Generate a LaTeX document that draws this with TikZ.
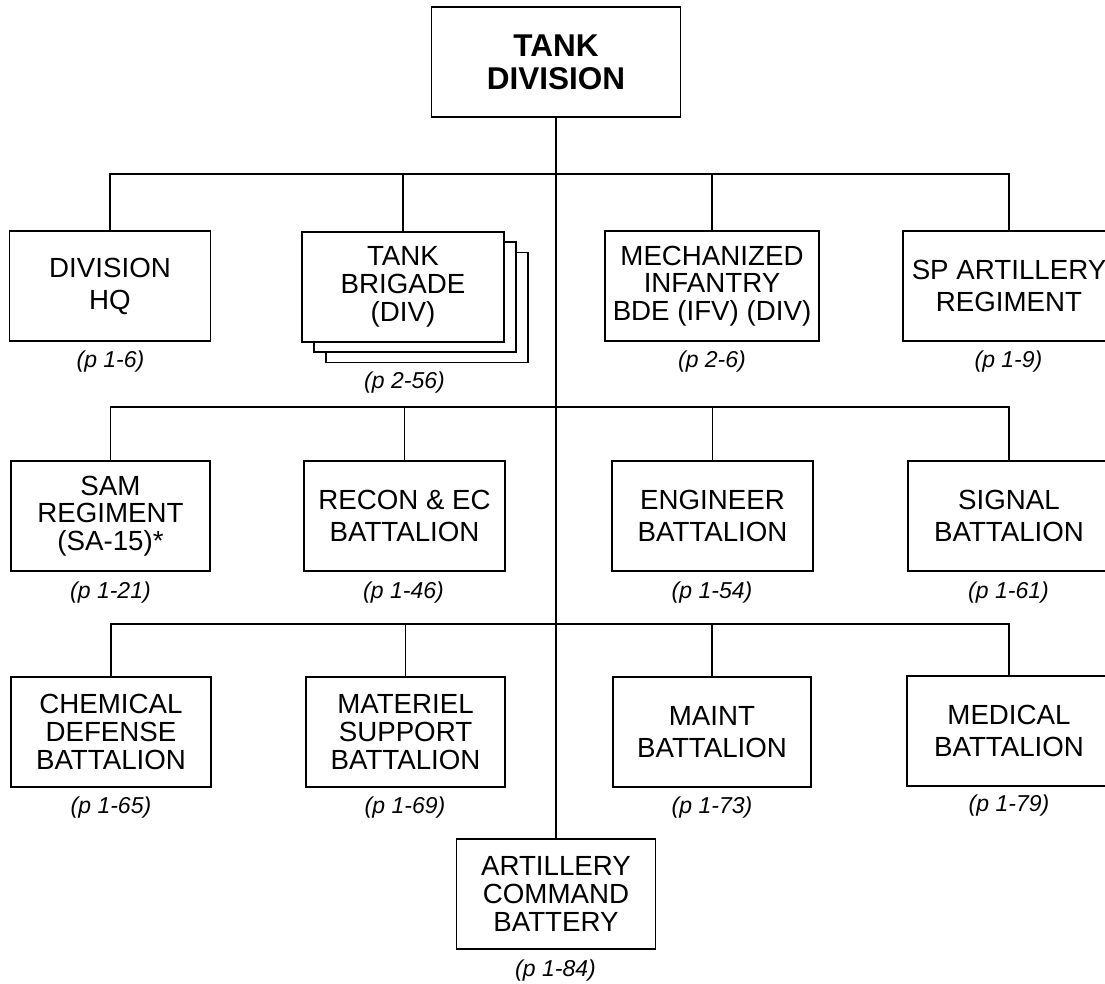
\documentclass[tikz,border=0pt]{standalone}
\usepackage{fontspec}
\setmainfont{Liberation Sans}
\begin{document}
\begin{tikzpicture}[x=1pt,y=-1pt,
  unit/.style={draw, line width=1.9pt, fill=white, align=center, inner sep=0pt,
    minimum height=110pt},
  twoline/.style={unit, font=\fontsize{27.7}{32}\selectfont},
  threeline/.style={unit, font=\fontsize{27.7}{27.8}\selectfont},
  topbox/.style={unit, font=\fontsize{31.5}{33}\selectfont\bfseries},
  pg/.style={font=\fontsize{23}{25}\selectfont\itshape, inner sep=0pt},
  link/.style={line width=1.9pt}
]
\useasboundingbox (0,0) rectangle (1105,984);
\clip (0,0) rectangle (1105,984);

% top
\node[topbox, minimum width=249pt] (top) at (556,62) {TANK\\DIVISION};

% row 1
\node[twoline, minimum width=201pt] (hq) at (110,286) {DIVISION\\HQ};
\node[threeline, minimum width=202pt] (tb3) at (427,307.5) {};
\node[threeline, minimum width=202pt] (tb2) at (415,297) {};
\node[threeline, minimum width=202pt] (tb) at (403,287) {TANK\\BRIGADE\\(DIV)};
\node[threeline, minimum width=214pt] (mi) at (712,286) {MECHANIZED\\INFANTRY\\BDE (IFV) (DIV)};
\node[twoline, minimum width=212pt] (sp) at (1009,286) {SP ARTILLERY\\REGIMENT};

\node[pg] (lhq) at (110.5,362) {(p 1-6)};
\node[pg] (ltb) at (404.5,383) {(p 2-56)};
\node[pg] (lmi) at (712,362) {(p 2-6)};
\node[pg] (lsp) at (1008.5,362) {(p 1-9)};

% row 2
\node[threeline, minimum width=199pt] (sam) at (110.5,516) {SAM\\REGIMENT\\(SA-15)*};
\node[twoline, minimum width=201pt] (rec) at (404.5,516) {RECON \& EC\\BATTALION};
\node[twoline, minimum width=201pt] (eng) at (712.5,516) {ENGINEER\\BATTALION};
\node[twoline, minimum width=202pt] (sig) at (1009,516) {SIGNAL\\BATTALION};

\node[pg] (lsam) at (110.5,593) {(p 1-21)};
\node[pg] (lrec) at (403.5,593) {(p 1-46)};
\node[pg] (leng) at (712,593) {(p 1-54)};
\node[pg] (lsig) at (1008.5,593) {(p 1-61)};

% row 3
\node[threeline, minimum width=200pt] (chem) at (111,732) {CHEMICAL\\DEFENSE\\BATTALION};
\node[threeline, minimum width=199pt] (mat) at (405.5,732) {MATERIEL\\SUPPORT\\BATTALION};
\node[twoline, minimum width=198pt] (mnt) at (712,732) {MAINT\\BATTALION};
\node[twoline, minimum width=204pt] (med) at (1009,731) {MEDICAL\\BATTALION};

\node[pg] (lchem) at (111,808) {(p 1-65)};
\node[pg] (lmat) at (405,808) {(p 1-69)};
\node[pg] (lmnt) at (712,808) {(p 1-73)};
\node[pg] (lmed) at (1009,806) {(p 1-79)};

% bottom
\node[threeline, minimum width=199pt] (acb) at (556,894) {ARTILLERY\\COMMAND\\BATTERY};
\node[pg] (lacb) at (555.5,971) {(p 1-84)};

% buses
\coordinate (b1) at (556,174);
\coordinate (b2) at (556,407);
\coordinate (b3) at (556,624);

\draw[link] (top.south) -- (acb.north);
\draw[link] (hq.north) |- (b1) -| (sp.north);
\draw[link] (tb.north) -- (tb.north |- b1);
\draw[link] (mi.north) -- (mi.north |- b1);
\draw[link] (sam.north) |- (b2) -| (sig.north);
\draw[link] (rec.north) -- (rec.north |- b2);
\draw[link] (eng.north) -- (eng.north |- b2);
\draw[link] (chem.north) |- (b3) -| (med.north);
\draw[link] (mat.north) -- (mat.north |- b3);
\draw[link] (mnt.north) -- (mnt.north |- b3);
\end{tikzpicture}
\end{document}
